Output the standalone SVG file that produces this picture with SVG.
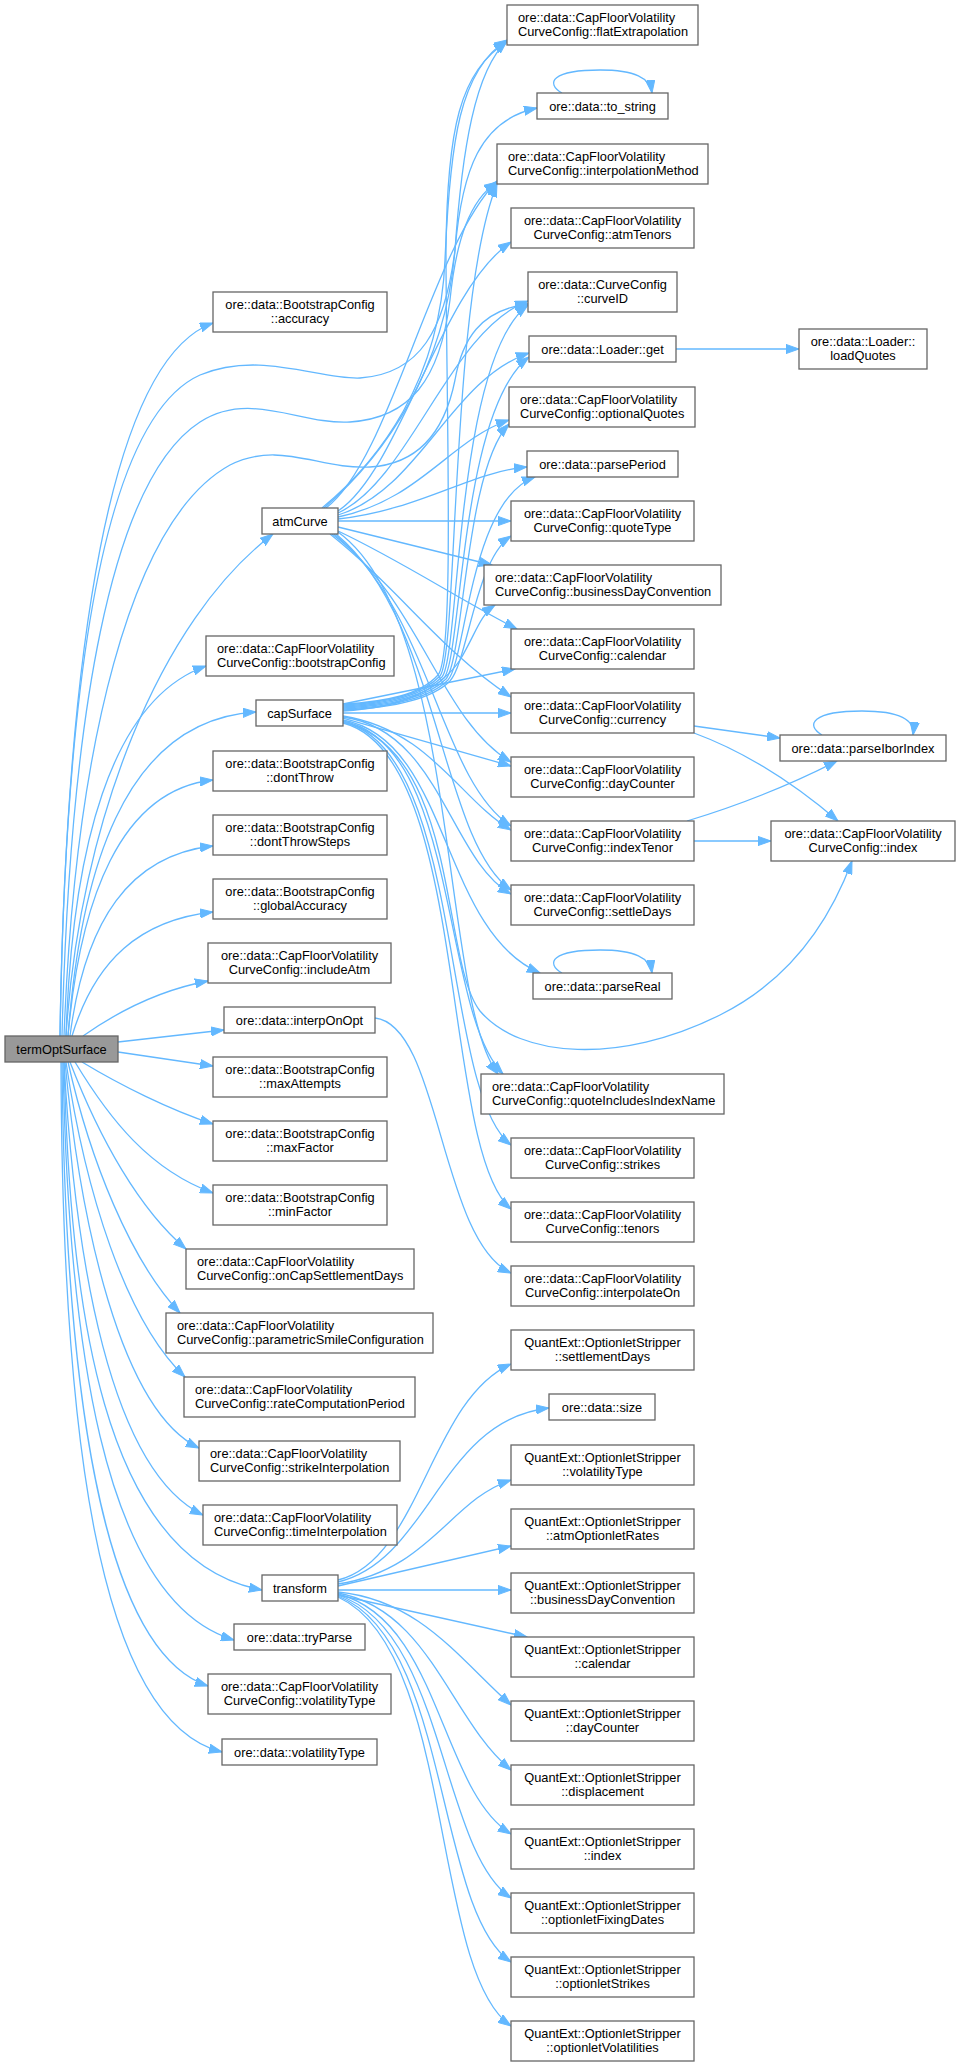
<svg xmlns="http://www.w3.org/2000/svg" width="960" height="2067" viewBox="0 0 960 2067">
<style>
.n rect{fill:#ffffff;stroke:#666666;stroke-width:1.3}
.root rect{fill:#999999}
text{font-family:"Liberation Sans",Arial,Helvetica,sans-serif;font-size:12.8px;fill:#000000}
.c{text-anchor:middle}
.e path{fill:none;stroke:#63b8ff;stroke-width:1.3;marker-end:url(#ah)}
</style>
<defs>
<marker id="ah" markerWidth="14" markerHeight="10" refX="13" refY="5" orient="auto" markerUnits="userSpaceOnUse">
<path d="M0,0.4 L13,5 L0,9.6 z" fill="#63b8ff" stroke="#63b8ff" stroke-width="1"/>
</marker>
</defs>
<rect width="960" height="2067" fill="#ffffff"/>
<g id="edges" class="e">
<!-- termOptSurface -->
<path d="M60,1036 C66,650 110,360 213,323"/>
<path d="M60,1036 C65,700 100,420 200,375 C260,350 320,380 360,378 C420,374 445,330 455,250 C462,150 475,70 507,41"/>
<path d="M62,1036 C70,720 110,480 200,422 C250,390 300,425 350,422 C410,418 440,380 450,300 C456,240 470,200 497,182"/>
<path d="M64,1036 C75,750 130,520 230,465 C280,440 320,470 370,467 C420,464 445,430 455,380 C462,340 480,310 528,304"/>
<path d="M66,1036 C80,820 160,620 273,534"/>
<path d="M66,1036 C72,850 110,700 206,666"/>
<path d="M68,1036 C80,880 120,720 256,712"/>
<path d="M68,1036 C80,900 120,790 213,780"/>
<path d="M70,1036 C85,920 130,855 213,846"/>
<path d="M72,1036 C95,960 140,920 213,912"/>
<path d="M83,1036 C120,1010 160,990 208,981"/>
<path d="M118,1042 L224,1030"/>
<path d="M118,1052 L213,1066"/>
<path d="M82,1062 C120,1085 170,1110 213,1124"/>
<path d="M75,1062 C110,1120 150,1170 213,1193"/>
<path d="M70,1062 C100,1140 140,1210 186,1249"/>
<path d="M68,1062 C90,1160 130,1260 180,1313"/>
<path d="M66,1062 C85,1190 125,1320 185,1377"/>
<path d="M65,1062 C80,1220 120,1410 199,1448"/>
<path d="M64,1062 C75,1260 110,1470 203,1515"/>
<path d="M64,1062 C70,1300 100,1560 262,1590"/>
<path d="M63,1062 C68,1330 100,1600 234,1640"/>
<path d="M62,1062 C65,1380 100,1650 208,1686"/>
<path d="M61,1062 C62,1420 95,1720 222,1752"/>
<!-- atmCurve -->
<path d="M322,508 C380,460 440,380 445,260 C450,140 460,70 507,40"/>
<path d="M324,508 C385,455 445,370 455,250 C462,170 480,120 537,108"/>
<path d="M326,508 C390,460 430,250 497,181"/>
<path d="M338,511 C400,470 440,290 511,242"/>
<path d="M338,513 C410,480 450,330 528,301"/>
<path d="M338,515 C420,490 450,380 529,353"/>
<path d="M338,517 C420,500 450,440 509,420"/>
<path d="M338,519 C420,510 470,472 527,467"/>
<path d="M338,521 L511,521"/>
<path d="M338,527 L492,565"/>
<path d="M338,531 C400,560 460,600 517,629"/>
<path d="M330,534 C400,590 440,650 511,697"/>
<path d="M332,534 C420,600 440,720 511,762"/>
<path d="M334,534 C430,610 440,780 511,826"/>
<path d="M336,534 C440,620 440,840 511,890"/>
<path d="M338,532 C460,620 440,1000 498,1074"/>
<!-- capSurface -->
<path d="M343,704 C385,702 420,695 438,675 C455,655 446,400 446,250 C447,130 460,70 507,42"/>
<path d="M343,705 C385,703 421,696 440,676 C458,655 450,300 497,184"/>
<path d="M343,706 C385,704 422,697 442,677 C460,656 455,360 528,305"/>
<path d="M343,707 C386,705 424,698 444,678 C462,657 460,410 529,357"/>
<path d="M343,708 C387,706 426,699 446,679 C464,658 465,470 509,424"/>
<path d="M343,709 C388,707 428,700 448,680 C466,660 470,500 535,477"/>
<path d="M343,710 C389,708 430,701 450,681 C468,661 475,560 511,536"/>
<path d="M343,711 C400,708 440,690 460,660 C475,635 480,615 495,605"/>
<path d="M343,704 L515,669"/>
<path d="M343,713 L511,713"/>
<path d="M343,718 L511,766"/>
<path d="M343,716 C430,730 460,800 511,830"/>
<path d="M343,717 C440,730 450,860 511,894"/>
<path d="M343,720 C450,740 440,930 540,973"/>
<path d="M343,721 C460,745 440,1010 503,1074"/>
<path d="M343,722 C465,750 440,1090 511,1145"/>
<path d="M343,723 C470,755 440,1150 511,1209"/>
<path d="M343,722 C460,750 440,960 480,1011 C520,1058 620,1065 720,1015 C790,980 830,920 852,861"/>
<!-- interpOnOpt -->
<path d="M375,1018 C440,1025 440,1240 511,1273"/>
<!-- self loops -->
<path d="M562,93 C545,83 552,70 600,70 C635,70 650,78 652,93"/>
<path d="M562,973 C545,963 552,950 600,950 C635,950 650,958 652,973"/>
<path d="M822,735 C805,725 812,711 862,711 C900,711 915,720 913,735"/>
<!-- others -->
<path d="M676,349 L799,349"/>
<path d="M694,726 L780,738"/>
<path d="M694,733 C740,750 790,780 838,821"/>
<path d="M687,821 C740,805 790,785 837,761"/>
<path d="M694,841 L771,841"/>
<!-- transform -->
<path d="M338,1580 C420,1560 430,1400 511,1364"/>
<path d="M338,1582 C430,1560 440,1420 549,1408"/>
<path d="M338,1584 C430,1570 450,1500 511,1480"/>
<path d="M338,1586 L511,1546"/>
<path d="M338,1590 L511,1590"/>
<path d="M338,1595 L527,1637"/>
<path d="M338,1592 C420,1600 460,1660 511,1705"/>
<path d="M338,1593 C430,1610 450,1720 511,1770"/>
<path d="M338,1594 C440,1620 440,1790 511,1834"/>
<path d="M338,1595 C445,1630 440,1850 511,1898"/>
<path d="M338,1596 C450,1640 435,1910 511,1962"/>
<path d="M338,1597 C455,1650 430,1970 511,2026"/>
</g>
<!-- left column -->
<g id="termOptSurface" class="n root"><rect x="5" y="1036" width="113" height="26"/><text class="c" x="61.5" y="1053.5">termOptSurface</text></g>
<g id="accuracy" class="n"><rect x="213" y="292" width="174" height="40"/><text class="c" x="300" y="309">ore::data::BootstrapConfig</text><text class="c" x="300" y="323">::accuracy</text></g>
<g id="atmCurve" class="n"><rect x="262" y="508" width="76" height="26"/><text class="c" x="300" y="525.5">atmCurve</text></g>
<g id="bootstrapConfig" class="n"><rect x="206" y="636" width="188" height="40"/><text x="217" y="653">ore::data::CapFloorVolatility</text><text x="217" y="667">CurveConfig::bootstrapConfig</text></g>
<g id="capSurface" class="n"><rect x="256" y="700" width="87" height="26"/><text class="c" x="299.5" y="717.5">capSurface</text></g>
<g id="dontThrow" class="n"><rect x="213" y="751" width="174" height="40"/><text class="c" x="300" y="768">ore::data::BootstrapConfig</text><text class="c" x="300" y="782">::dontThrow</text></g>
<g id="dontThrowSteps" class="n"><rect x="213" y="815" width="174" height="40"/><text class="c" x="300" y="832">ore::data::BootstrapConfig</text><text class="c" x="300" y="846">::dontThrowSteps</text></g>
<g id="globalAccuracy" class="n"><rect x="213" y="879" width="174" height="40"/><text class="c" x="300" y="896">ore::data::BootstrapConfig</text><text class="c" x="300" y="910">::globalAccuracy</text></g>
<g id="includeAtm" class="n"><rect x="208" y="943" width="183" height="40"/><text class="c" x="299.5" y="960">ore::data::CapFloorVolatility</text><text class="c" x="299.5" y="974">CurveConfig::includeAtm</text></g>
<g id="interpOnOpt" class="n"><rect x="224" y="1007" width="151" height="26"/><text class="c" x="299.5" y="1024.5">ore::data::interpOnOpt</text></g>
<g id="maxAttempts" class="n"><rect x="213" y="1057" width="174" height="40"/><text class="c" x="300" y="1074">ore::data::BootstrapConfig</text><text class="c" x="300" y="1088">::maxAttempts</text></g>
<g id="maxFactor" class="n"><rect x="213" y="1121" width="174" height="40"/><text class="c" x="300" y="1138">ore::data::BootstrapConfig</text><text class="c" x="300" y="1152">::maxFactor</text></g>
<g id="minFactor" class="n"><rect x="213" y="1185" width="174" height="40"/><text class="c" x="300" y="1202">ore::data::BootstrapConfig</text><text class="c" x="300" y="1216">::minFactor</text></g>
<g id="onCapSettlementDays" class="n"><rect x="186" y="1249" width="228" height="40"/><text x="197" y="1266">ore::data::CapFloorVolatility</text><text x="197" y="1280">CurveConfig::onCapSettlementDays</text></g>
<g id="parametricSmileConfiguration" class="n"><rect x="166" y="1313" width="267" height="40"/><text x="177" y="1330">ore::data::CapFloorVolatility</text><text x="177" y="1344">CurveConfig::parametricSmileConfiguration</text></g>
<g id="rateComputationPeriod" class="n"><rect x="184" y="1377" width="231" height="40"/><text x="195" y="1394">ore::data::CapFloorVolatility</text><text x="195" y="1408">CurveConfig::rateComputationPeriod</text></g>
<g id="strikeInterpolation" class="n"><rect x="199" y="1441" width="201" height="40"/><text x="210" y="1458">ore::data::CapFloorVolatility</text><text x="210" y="1472">CurveConfig::strikeInterpolation</text></g>
<g id="timeInterpolation" class="n"><rect x="203" y="1505" width="194" height="40"/><text x="214" y="1522">ore::data::CapFloorVolatility</text><text x="214" y="1536">CurveConfig::timeInterpolation</text></g>
<g id="transform" class="n"><rect x="262" y="1575" width="76" height="26"/><text class="c" x="300" y="1592.5">transform</text></g>
<g id="tryParse" class="n"><rect x="234" y="1624" width="131" height="26"/><text class="c" x="299.5" y="1641.5">ore::data::tryParse</text></g>
<g id="cfgVolatilityType" class="n"><rect x="208" y="1674" width="183" height="40"/><text class="c" x="299.5" y="1691">ore::data::CapFloorVolatility</text><text class="c" x="299.5" y="1705">CurveConfig::volatilityType</text></g>
<g id="volatilityType" class="n"><rect x="222" y="1739" width="155" height="26"/><text class="c" x="299.5" y="1756.5">ore::data::volatilityType</text></g>
<!-- middle column -->
<g id="flatExtrapolation" class="n"><rect x="507" y="5" width="191" height="40"/><text x="518" y="22">ore::data::CapFloorVolatility</text><text x="518" y="36">CurveConfig::flatExtrapolation</text></g>
<g id="to_string" class="n"><rect x="537" y="93" width="131" height="26"/><text class="c" x="602.5" y="110.5">ore::data::to_string</text></g>
<g id="interpolationMethod" class="n"><rect x="497" y="144" width="211" height="40"/><text x="508" y="161">ore::data::CapFloorVolatility</text><text x="508" y="175">CurveConfig::interpolationMethod</text></g>
<g id="atmTenors" class="n"><rect x="511" y="208" width="183" height="40"/><text class="c" x="602.5" y="225">ore::data::CapFloorVolatility</text><text class="c" x="602.5" y="239">CurveConfig::atmTenors</text></g>
<g id="curveID" class="n"><rect x="528" y="272" width="149" height="40"/><text class="c" x="602.5" y="289">ore::data::CurveConfig</text><text class="c" x="602.5" y="303">::curveID</text></g>
<g id="get" class="n"><rect x="529" y="336" width="147" height="26"/><text class="c" x="602.5" y="353.5">ore::data::Loader::get</text></g>
<g id="loadQuotes" class="n"><rect x="799" y="329" width="128" height="40"/><text class="c" x="863" y="346">ore::data::Loader::</text><text class="c" x="863" y="360">loadQuotes</text></g>
<g id="optionalQuotes" class="n"><rect x="509" y="387" width="186" height="40"/><text x="520" y="404">ore::data::CapFloorVolatility</text><text x="520" y="418">CurveConfig::optionalQuotes</text></g>
<g id="parsePeriod" class="n"><rect x="527" y="451" width="151" height="26"/><text class="c" x="602.5" y="468.5">ore::data::parsePeriod</text></g>
<g id="quoteType" class="n"><rect x="511" y="501" width="183" height="40"/><text class="c" x="602.5" y="518">ore::data::CapFloorVolatility</text><text class="c" x="602.5" y="532">CurveConfig::quoteType</text></g>
<g id="businessDayConvention" class="n"><rect x="484" y="565" width="237" height="40"/><text x="495" y="582">ore::data::CapFloorVolatility</text><text x="495" y="596">CurveConfig::businessDayConvention</text></g>
<g id="calendar" class="n"><rect x="511" y="629" width="183" height="40"/><text class="c" x="602.5" y="646">ore::data::CapFloorVolatility</text><text class="c" x="602.5" y="660">CurveConfig::calendar</text></g>
<g id="currency" class="n"><rect x="511" y="693" width="183" height="40"/><text class="c" x="602.5" y="710">ore::data::CapFloorVolatility</text><text class="c" x="602.5" y="724">CurveConfig::currency</text></g>
<g id="dayCounter" class="n"><rect x="511" y="757" width="183" height="40"/><text class="c" x="602.5" y="774">ore::data::CapFloorVolatility</text><text class="c" x="602.5" y="788">CurveConfig::dayCounter</text></g>
<g id="indexTenor" class="n"><rect x="511" y="821" width="183" height="40"/><text class="c" x="602.5" y="838">ore::data::CapFloorVolatility</text><text class="c" x="602.5" y="852">CurveConfig::indexTenor</text></g>
<g id="settleDays" class="n"><rect x="511" y="885" width="183" height="40"/><text class="c" x="602.5" y="902">ore::data::CapFloorVolatility</text><text class="c" x="602.5" y="916">CurveConfig::settleDays</text></g>
<g id="parseReal" class="n"><rect x="533" y="973" width="139" height="26"/><text class="c" x="602.5" y="990.5">ore::data::parseReal</text></g>
<g id="quoteIncludesIndexName" class="n"><rect x="481" y="1074" width="243" height="40"/><text x="492" y="1091">ore::data::CapFloorVolatility</text><text x="492" y="1105">CurveConfig::quoteIncludesIndexName</text></g>
<g id="strikes" class="n"><rect x="511" y="1138" width="183" height="40"/><text class="c" x="602.5" y="1155">ore::data::CapFloorVolatility</text><text class="c" x="602.5" y="1169">CurveConfig::strikes</text></g>
<g id="tenors" class="n"><rect x="511" y="1202" width="183" height="40"/><text class="c" x="602.5" y="1219">ore::data::CapFloorVolatility</text><text class="c" x="602.5" y="1233">CurveConfig::tenors</text></g>
<g id="interpolateOn" class="n"><rect x="511" y="1266" width="183" height="40"/><text class="c" x="602.5" y="1283">ore::data::CapFloorVolatility</text><text class="c" x="602.5" y="1297">CurveConfig::interpolateOn</text></g>
<g id="qe_settlementDays" class="n"><rect x="511" y="1330" width="183" height="40"/><text class="c" x="602.5" y="1347">QuantExt::OptionletStripper</text><text class="c" x="602.5" y="1361">::settlementDays</text></g>
<g id="size" class="n"><rect x="549" y="1394" width="106" height="26"/><text class="c" x="602" y="1411.5">ore::data::size</text></g>
<g id="qe_volatilityType" class="n"><rect x="511" y="1445" width="183" height="40"/><text class="c" x="602.5" y="1462">QuantExt::OptionletStripper</text><text class="c" x="602.5" y="1476">::volatilityType</text></g>
<g id="qe_atmOptionletRates" class="n"><rect x="511" y="1509" width="183" height="40"/><text class="c" x="602.5" y="1526">QuantExt::OptionletStripper</text><text class="c" x="602.5" y="1540">::atmOptionletRates</text></g>
<g id="qe_businessDayConvention" class="n"><rect x="511" y="1573" width="183" height="40"/><text class="c" x="602.5" y="1590">QuantExt::OptionletStripper</text><text class="c" x="602.5" y="1604">::businessDayConvention</text></g>
<g id="qe_calendar" class="n"><rect x="511" y="1637" width="183" height="40"/><text class="c" x="602.5" y="1654">QuantExt::OptionletStripper</text><text class="c" x="602.5" y="1668">::calendar</text></g>
<g id="qe_dayCounter" class="n"><rect x="511" y="1701" width="183" height="40"/><text class="c" x="602.5" y="1718">QuantExt::OptionletStripper</text><text class="c" x="602.5" y="1732">::dayCounter</text></g>
<g id="qe_displacement" class="n"><rect x="511" y="1765" width="183" height="40"/><text class="c" x="602.5" y="1782">QuantExt::OptionletStripper</text><text class="c" x="602.5" y="1796">::displacement</text></g>
<g id="qe_index" class="n"><rect x="511" y="1829" width="183" height="40"/><text class="c" x="602.5" y="1846">QuantExt::OptionletStripper</text><text class="c" x="602.5" y="1860">::index</text></g>
<g id="qe_optionletFixingDates" class="n"><rect x="511" y="1893" width="183" height="40"/><text class="c" x="602.5" y="1910">QuantExt::OptionletStripper</text><text class="c" x="602.5" y="1924">::optionletFixingDates</text></g>
<g id="qe_optionletStrikes" class="n"><rect x="511" y="1957" width="183" height="40"/><text class="c" x="602.5" y="1974">QuantExt::OptionletStripper</text><text class="c" x="602.5" y="1988">::optionletStrikes</text></g>
<g id="qe_optionletVolatilities" class="n"><rect x="511" y="2021" width="183" height="40"/><text class="c" x="602.5" y="2038">QuantExt::OptionletStripper</text><text class="c" x="602.5" y="2052">::optionletVolatilities</text></g>
<!-- right column -->
<g id="parseIborIndex" class="n"><rect x="780" y="735" width="166" height="26"/><text class="c" x="863" y="752.5">ore::data::parseIborIndex</text></g>
<g id="index" class="n"><rect x="771" y="821" width="184" height="40"/><text class="c" x="863" y="838">ore::data::CapFloorVolatility</text><text class="c" x="863" y="852">CurveConfig::index</text></g>
</svg>
